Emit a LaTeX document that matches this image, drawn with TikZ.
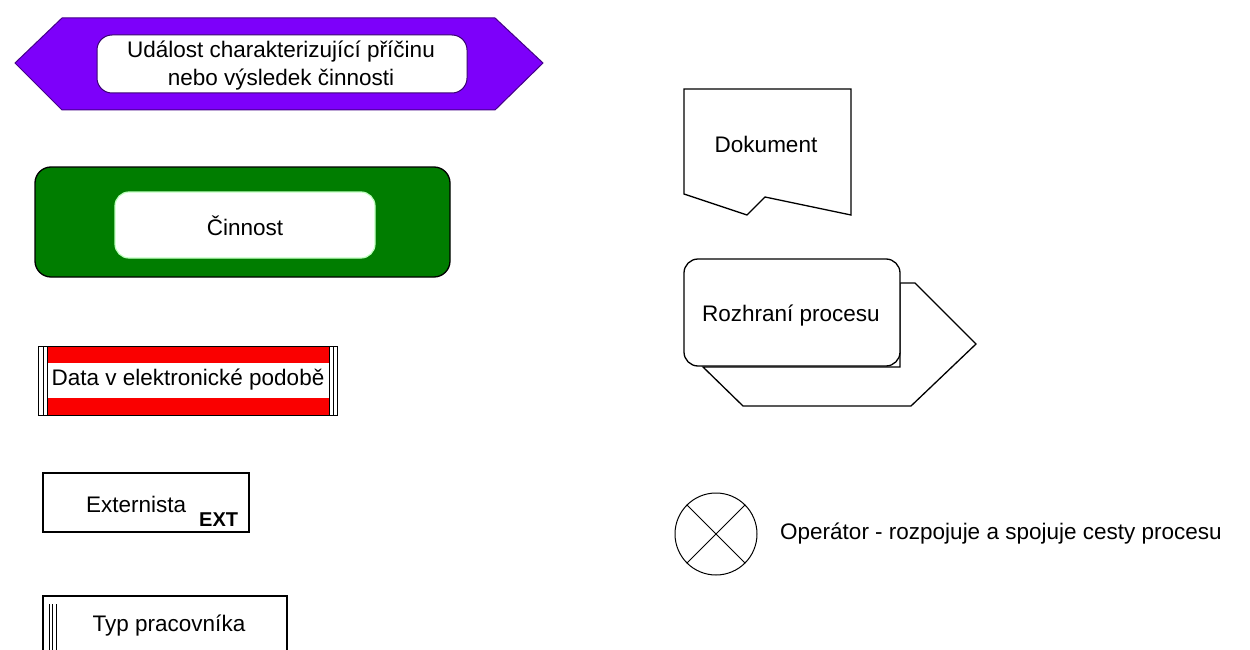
\documentclass[tikz,border=0pt]{standalone}
\usepackage{fontspec}
\setmainfont{Liberation Sans}
\definecolor{evpurple}{RGB}{125,0,250}
\definecolor{actgreen}{RGB}{0,125,0}
\definecolor{datared}{RGB}{250,0,0}
\begin{document}
\begin{tikzpicture}[x=1pt,y=-1pt,
  ol/.style={draw=black, line width=1.3pt},
  thinl/.style={draw=black, line width=1pt},
  lbl/.style={font=\fontsize{22.5}{28}\selectfont, inner sep=0pt, align=center}]
\useasboundingbox (0,0) rectangle (1250,650);
\fill[white] (0,0) rectangle (1250,650);

% event
\draw[draw=evpurple!55!black, fill=evpurple, line width=1pt]
  (15,63) -- (62,18) -- (495,18) -- (543,63) -- (495,110) -- (62,110) -- cycle;
\draw[fill=white, draw=evpurple!45!black, line width=1pt, rounded corners=15pt] (97,35) rectangle (467,93);
\node[lbl] (event) at (281,66) {Událost charakterizující příčinu\\nebo výsledek činnosti};

% activity
\draw[fill=actgreen, ol, rounded corners=16pt] (35,167) rectangle (450,277);
\draw[fill=white, draw=green!25, line width=1.2pt, rounded corners=14pt] (115,192) rectangle (375,258);
\node[lbl] (act) at (245,226) {Činnost};

% data
\fill[datared] (47,346) rectangle (329,415);
\fill[white] (47,363) rectangle (329,398);
\draw[thinl] (38,346) rectangle (337,415);
\draw[thinl] (43,346) -- (43,415) (47,346) -- (47,415) (329,346) -- (329,415) (333,346) -- (333,415);
\node[lbl] (data) at (188,380) {Data v elektronické podobě};

% externista
\draw[ol] (43,473) rectangle (249,532);
\node[lbl, anchor=base west] (ext) at (86,512) {Externista};
\node[anchor=base west, inner sep=0pt, font=\bfseries\fontsize{20}{23}\selectfont] (extb) at (199,526) {EXT};

% typ pracovnika
\draw[ol] (43,652) -- (43,596) -- (287,596) -- (287,652);
\draw[thinl] (49,604) -- (49,652) (52.5,604) -- (52.5,652) (56,604) -- (56,652);
\node[lbl] (typ) at (169,626) {Typ pracovníka};

% dokument
\draw[ol, fill=white] (684,89) -- (851,89) -- (851,215) -- (765,197) -- (747,215) -- (684,194) -- cycle;
\node[lbl] (dok) at (766,144) {Dokument};

% rozhrani
\draw[ol, fill=white] (900,283) -- (915,283) -- (976,344) -- (911,406) -- (743,406) -- (703,367) -- (900,367) -- cycle;
\draw[ol, fill=white, rounded corners=14pt] (684,259) rectangle (900,366);
\node[lbl] (roz) at (791,316) {Rozhraní procesu};

% operator
\node[circle, draw, thinl, minimum size=82pt, inner sep=0pt] (op) at (716,534) {};
\draw[thinl] (op.north west) -- (op.south east) (op.north east) -- (op.south west);
\node[lbl, anchor=west] (optext) at (780,534) {Operátor - rozpojuje a spojuje cesty procesu};
\end{tikzpicture}
\end{document}
